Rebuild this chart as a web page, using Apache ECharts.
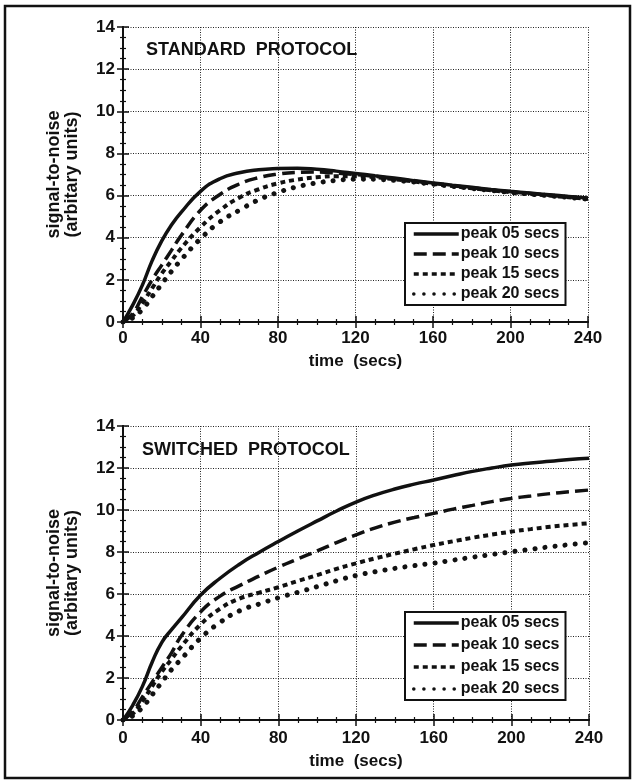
<!DOCTYPE html>
<html>
<head>
<meta charset="utf-8">
<script src="https://cdn.jsdelivr.net/npm/echarts@6/dist/echarts.min.js"></script>
<style>
  html, body { margin: 0; padding: 0; background: #fff; }
  #chart { width: 634px; height: 782px; }
</style>
</head>
<body>
<div id="chart"></div>
<script>
// time points (secs) shared by all curves
const times = [0, 5, 10, 15, 20, 25, 30, 40, 50, 60, 70, 80, 90, 100, 110, 120, 130, 140, 150, 160, 170, 180, 190, 200, 210, 220, 230, 240];

// standard protocol
const std05 = [0, 0.8, 1.75, 2.9, 3.85, 4.6, 5.2, 6.2, 6.8, 7.08, 7.22, 7.28, 7.3, 7.25, 7.16, 7.05, 6.94, 6.83, 6.71, 6.6, 6.49, 6.39, 6.29, 6.2, 6.12, 6.04, 5.96, 5.88];
const std10 = [0, 0.4, 1.2, 2.0, 2.7, 3.4, 4.1, 5.3, 6.05, 6.55, 6.85, 7.02, 7.1, 7.12, 7.07, 7.0, 6.91, 6.8, 6.69, 6.58, 6.47, 6.37, 6.27, 6.18, 6.1, 6.02, 5.94, 5.86];
const std15 = [0, 0.3, 0.9, 1.6, 2.3, 2.9, 3.5, 4.5, 5.3, 5.9, 6.3, 6.58, 6.76, 6.87, 6.92, 6.92, 6.87, 6.78, 6.67, 6.56, 6.45, 6.35, 6.25, 6.16, 6.08, 6.0, 5.92, 5.84];
const std20 = [0, 0.2, 0.6, 1.2, 1.8, 2.4, 2.95, 3.95, 4.75, 5.3, 5.8, 6.15, 6.42, 6.6, 6.72, 6.78, 6.77, 6.72, 6.64, 6.54, 6.44, 6.34, 6.24, 6.15, 6.07, 5.99, 5.91, 5.83];

// switched protocol
const sw05 = [0, 0.7, 1.6, 2.75, 3.7, 4.3, 4.85, 5.95, 6.75, 7.42, 7.98, 8.5, 9.0, 9.48, 9.95, 10.38, 10.72, 11.0, 11.23, 11.43, 11.64, 11.84, 12.0, 12.14, 12.24, 12.32, 12.4, 12.46];
const sw10 = [0, 0.4, 1.1, 1.8, 2.5, 3.2, 4.0, 5.15, 5.9, 6.4, 6.85, 7.28, 7.67, 8.05, 8.45, 8.82, 9.15, 9.42, 9.64, 9.84, 10.04, 10.22, 10.4, 10.55, 10.67, 10.78, 10.87, 10.95];
const sw15 = [0, 0.3, 0.9, 1.6, 2.3, 2.9, 3.5, 4.55, 5.3, 5.78, 6.06, 6.32, 6.62, 6.9, 7.2, 7.46, 7.7, 7.92, 8.13, 8.33, 8.51, 8.68, 8.83, 8.97, 9.09, 9.2, 9.29, 9.37];
const sw20 = [0, 0.2, 0.6, 1.2, 1.8, 2.4, 2.9, 3.9, 4.65, 5.2, 5.52, 5.82, 6.08, 6.35, 6.63, 6.88, 7.06, 7.22, 7.35, 7.47, 7.61, 7.75, 7.88, 8.01, 8.13, 8.25, 8.35, 8.44];

const seriesNames = ['peak 05 secs', 'peak 10 secs', 'peak 15 secs', 'peak 20 secs'];
const panelTitles = ['STANDARD  PROTOCOL', 'SWITCHED  PROTOCOL'];

const font = 'Liberation Sans';
const ink = '#111';

// line look per series: solid, long dash, short dash, dots
const lineStyles = [
  { width: 3.5, type: 'solid' },
  { width: 3.5, type: [13, 6] },
  { width: 4, type: [5, 4] },
  { width: 5, type: [0.1, 10], cap: 'round' }
];

const pair = vals => times.map((t, i) => [t, vals[i]]);

const chart = echarts.init(document.getElementById('chart'));

const grids = [
  { left: 123, top: 27, width: 465, height: 295 },
  { left: 123, top: 426, width: 466, height: 294 }
];

const xAxes = [];
const yAxes = [];
grids.forEach((g, gi) => {
  // bottom axis with labels
  xAxes.push({
    gridIndex: gi, type: 'value', min: 0, max: 240, interval: 40, position: 'bottom',
    name: 'time  (secs)', nameLocation: 'middle', nameGap: gi === 0 ? 31 : 33,
    nameTextStyle: { fontFamily: font, fontWeight: 'bold', fontSize: 17, color: ink },
    axisLine: { show: true, lineStyle: { color: ink, width: 2 } },
    axisTick: { show: true, inside: true, length: 6, lineStyle: { color: ink, width: 1.5 } },
    minorTick: { show: true, splitNumber: 4, length: 3, lineStyle: { color: ink, width: 1.2 } },
    axisLabel: { margin: gi === 0 ? 8 : 10, fontFamily: font, fontWeight: 'bold', fontSize: 17, color: ink },
    splitLine: { show: true, lineStyle: { color: '#222', width: 1, type: [1, 1.5] } }
  });
  // top axis, ticks only
  xAxes.push({
    gridIndex: gi, type: 'value', min: 0, max: 240, interval: 40, position: 'top',
    axisLine: { show: true, lineStyle: { color: ink, width: 2 } },
    axisTick: { show: true, inside: true, length: 6, lineStyle: { color: ink, width: 1.5 } },
    minorTick: { show: true, splitNumber: 4, length: 3, lineStyle: { color: ink, width: 1.2 } },
    axisLabel: { show: false }, splitLine: { show: false }
  });
  // left axis with labels
  yAxes.push({
    gridIndex: gi, type: 'value', min: 0, max: 14, interval: 2, position: 'left',
    name: 'signal-to-noise\n(arbitary units)', nameLocation: 'middle', nameGap: 42, nameRotate: 90,
    nameTextStyle: { fontFamily: font, fontWeight: 'bold', fontSize: 18, color: ink, lineHeight: 18, align: 'center' },
    axisLine: { show: true, lineStyle: { color: ink, width: 2 } },
    axisTick: { show: true, inside: true, length: 6, lineStyle: { color: ink, width: 1.5 } },
    minorTick: { show: true, splitNumber: 4, length: 3, lineStyle: { color: ink, width: 1.2 } },
    axisLabel: { margin: 8, fontFamily: font, fontWeight: 'bold', fontSize: 17, color: ink },
    splitLine: { show: true, lineStyle: { color: '#222', width: 1, type: [1, 1.5] } }
  });
  // right axis, ticks only
  yAxes.push({
    gridIndex: gi, type: 'value', min: 0, max: 14, interval: 2, position: 'right',
    axisLine: { show: true, lineStyle: { color: ink, width: 2 } },
    axisTick: { show: true, inside: true, length: 6, lineStyle: { color: ink, width: 1.5 } },
    minorTick: { show: true, splitNumber: 4, length: 3, lineStyle: { color: ink, width: 1.2 } },
    axisLabel: { show: false }, splitLine: { show: false }
  });
});

const panels = [[std05, std10, std15, std20], [sw05, sw10, sw15, sw20]];
const series = [];
panels.forEach((set, gi) => {
  set.forEach((vals, si) => {
    series.push({
      name: seriesNames[si] + (gi === 0 ? '' : ' '),
      type: 'line', xAxisIndex: gi * 2, yAxisIndex: gi * 2,
      data: pair(vals), symbol: 'none', smooth: 0.5,
      color: ink,
      lineStyle: Object.assign({ color: ink }, lineStyles[si]),
      z: 10 - si
    });
  });
});

const legendBase = {
  orient: 'vertical', left: 405, itemWidth: 45, itemHeight: 14, itemGap: 4,
  backgroundColor: '#fff', borderColor: ink, borderWidth: 2, borderRadius: 0,
  padding: [3, 6, 3, 7], selectedMode: false,
  lineStyle: { width: 3.5 },
  itemStyle: { color: 'rgba(0,0,0,0)', borderColor: 'rgba(0,0,0,0)', borderWidth: 0 },
  textStyle: { fontFamily: font, fontWeight: 'bold', fontSize: 16, color: ink, padding: [0, 0, 0, -3] }
};

const option = {
  backgroundColor: '#fff',
  animation: false,
  title: [
    { text: panelTitles[0], left: 146, top: 41, padding: 0,
      textStyle: { fontFamily: font, fontWeight: 'bold', fontSize: 18, color: ink } },
    { text: panelTitles[1], left: 142, top: 441, padding: 0,
      textStyle: { fontFamily: font, fontWeight: 'bold', fontSize: 18, color: ink } }
  ],
  legend: [
    Object.assign({}, legendBase, { top: 223, data: seriesNames }),
    Object.assign({}, legendBase, { top: 612, itemGap: 6, data: seriesNames.map(n => n + ' '),
      formatter: n => n.trim() })
  ],
  grid: grids,
  xAxis: xAxes,
  yAxis: yAxes,
  series: series,
  graphic: [{
    type: 'rect', shape: { x: 5, y: 6, width: 625, height: 772 },
    style: { fill: 'none', stroke: ink, lineWidth: 2.5 }, silent: true, z: 100
  }]
};

option && chart.setOption(option);
</script>
</body>
</html>
